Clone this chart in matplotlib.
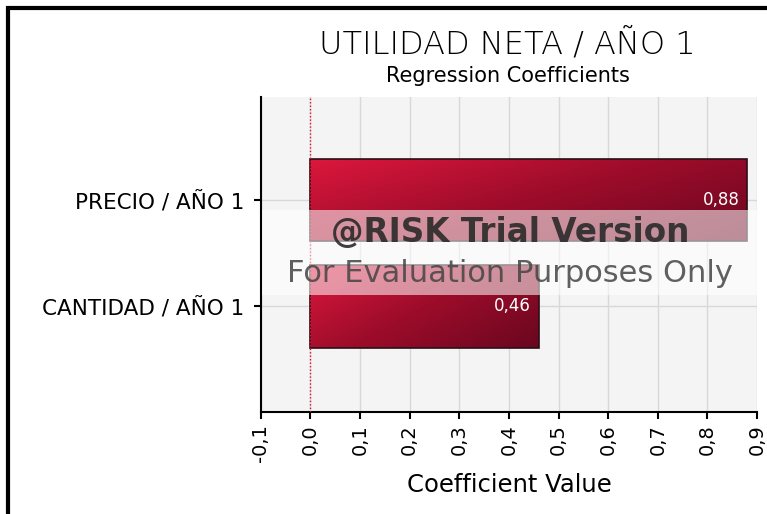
import matplotlib.pyplot as plt
import numpy as np
from matplotlib.colors import LinearSegmentedColormap
from matplotlib.patches import Rectangle

# data
categories = ['CANTIDAD / AÑO 1', 'PRECIO / AÑO 1']
coefficients = [0.46, 0.88]
xticks = [-0.1, 0.0, 0.1, 0.2, 0.3, 0.4, 0.5, 0.6, 0.7, 0.8, 0.9]

fig = plt.figure(figsize=(7.67, 5.14), dpi=100)
ax = fig.add_axes([0.340, 0.198, 0.647, 0.613])
ax.set_facecolor('#f4f4f4')

# outer frame of the picture
fig.patches.append(Rectangle((8 / 767, -0.05), 1.2, 1 - 8 / 514 + 0.05,
                             transform=fig.transFigure, fill=False,
                             edgecolor='black', linewidth=3, zorder=0))

ypos = np.arange(len(categories))
bar_h = 0.78
cmap = LinearSegmentedColormap.from_list('red', ['#dc173d', '#9c0c2a', '#6a0720'])
gx, gy = np.meshgrid(np.linspace(0, 1, 200), np.linspace(0, 1, 60))
grad = (gx * 0.6 + gy * 0.4)

bars = ax.barh(ypos, coefficients, height=bar_h, color='none',
               edgecolor='#2a1015', linewidth=1.2, zorder=3)
for b, v in zip(bars, coefficients):
    x0, y0 = b.get_x(), b.get_y()
    im = ax.imshow(grad, cmap=cmap, aspect='auto', zorder=2,
                   extent=(x0, x0 + b.get_width(), y0, y0 + b.get_height()),
                   origin='upper')
    im.set_clip_path(b)
    ax.text(v - 0.015, y0 + b.get_height() / 2, f'{v:.2f}'.replace('.', ','),
            ha='right', va='center', color='white', fontsize=12, zorder=4)

ax.axvline(0, color='#e0103a', linestyle=(0, (1, 1.5)), linewidth=1, zorder=4)

ax.set_xlim(-0.1, 0.9)
ax.set_ylim(-1.0, 1.97)
ax.set_xticks(xticks)
ax.set_xticklabels([f'{t:.1f}'.replace('.', ',') for t in xticks],
                   rotation=90, fontsize=14)
ax.set_yticks(ypos)
ax.set_yticklabels(categories, fontsize=15.5)
ax.grid(True, color='#d8d8d8', linewidth=1, zorder=1)
ax.set_axisbelow(True)
for s in ['top', 'right']:
    ax.spines[s].set_visible(False)
ax.spines['left'].set_linewidth(1.5)
ax.spines['bottom'].set_linewidth(1.5)
ax.tick_params(length=5, width=1.5)
ax.tick_params(axis='y', pad=7)
ax.set_xlabel('Coefficient Value', fontsize=17.5, labelpad=8)

fig.text(0.662, 0.916, 'UTILIDAD NETA / AÑO 1', ha='center', va='center',
         fontsize=23, fontweight='light')
fig.text(0.662, 0.853, 'Regression Coefficients', ha='center', va='center',
         fontsize=15)

# trial watermark
fig.patches.append(Rectangle((262 / 767, (514 - 295) / 514), 495 / 767, 85 / 514,
                             transform=fig.transFigure, facecolor='white',
                             alpha=0.55, edgecolor='none', zorder=5))
fig.text(0.665, 0.548, '@RISK Trial Version', ha='center', va='center',
         fontsize=23.5, fontweight='bold', color='#2a2a2a', alpha=0.9, zorder=6)
fig.text(0.665, 0.468, 'For Evaluation Purposes Only', ha='center', va='center',
         fontsize=22, color='#444444', alpha=0.85, zorder=6)

fig.savefig('out.png', dpi=100)
